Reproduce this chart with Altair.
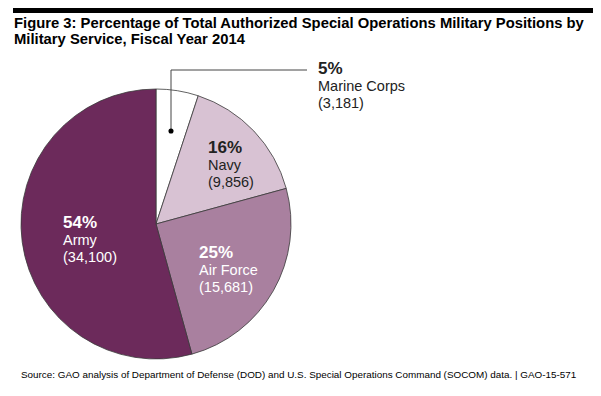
import altair as alt
import pandas as pd

services = ["Marine Corps", "Navy", "Air Force", "Army"]
counts = [3181, 9856, 15681, 34100]
pct_labels = ["5%", "16%", "25%", "54%"]
count_labels = ["(3,181)", "(9,856)", "(15,681)", "(34,100)"]
colors = ["#ffffff", "#d8c2d3", "#a9809f", "#6c2a5b"]
order = [0, 1, 2, 3]

title_lines = ["Figure 3: Percentage of Total Authorized Special Operations Military Positions by",
               "Military Service, Fiscal Year 2014"]
source_text = "Source: GAO analysis of Department of Defense (DOD) and U.S. Special Operations Command (SOCOM) data.  |  GAO-15-571"

df = pd.DataFrame({"service": services, "count": counts, "pct": pct_labels,
                   "cnt": count_labels, "ord": order})

FONT = "Liberation Sans"
CX, CY, R = 148, 216, 135

base = alt.Chart(df)

pie = base.mark_arc(radius=R, stroke="#3a3a3a", strokeWidth=0.8).encode(
    theta=alt.Theta("count:Q", stack=True),
    color=alt.Color("service:N", scale=alt.Scale(domain=services, range=colors), legend=None),
    order=alt.Order("ord:Q"),
    x=alt.value(CX), y=alt.value(CY),
)

one = pd.DataFrame({"a": [0]})
bar = alt.Chart(one).mark_rect(color="#000000").encode(
    x=alt.value(5), x2=alt.value(585), y=alt.value(0), y2=alt.value(5))

title1 = alt.Chart(one).mark_text(text=title_lines[0], font=FONT, fontSize=14.8, fontWeight="bold",
                                  align="left", baseline="alphabetic", color="#000").encode(
    x=alt.value(6), y=alt.value(20))
title2 = alt.Chart(one).mark_text(text=title_lines[1], font=FONT, fontSize=14.8, fontWeight="bold",
                                  align="left", baseline="alphabetic", color="#000").encode(
    x=alt.value(6), y=alt.value(36))
source = alt.Chart(one).mark_text(text=source_text, font=FONT, fontSize=9.9,
                                  align="left", baseline="alphabetic", color="#000").encode(
    x=alt.value(13), y=alt.value(370))

# leader line for Marine Corps
lead_v = alt.Chart(one).mark_rule(color="#444", strokeWidth=1).encode(
    x=alt.value(163), y=alt.value(62), y2=alt.value(123))
lead_h = alt.Chart(one).mark_rule(color="#444", strokeWidth=1).encode(
    x=alt.value(163), x2=alt.value(299), y=alt.value(62))
dot = alt.Chart(one).mark_circle(color="#000", opacity=1, size=26).encode(
    x=alt.value(163), y=alt.value(123))


def labels(service, x, y, col):
    d = base.transform_filter(alt.datum.service == service)
    p = d.mark_text(font=FONT, fontSize=17, fontWeight="bold", align="left",
                    baseline="alphabetic", color=col).encode(
        text="pct:N", x=alt.value(x), y=alt.value(y - 1))
    n = d.mark_text(font=FONT, fontSize=14.5, align="left", baseline="alphabetic", color=col).encode(
        text="service:N", x=alt.value(x), y=alt.value(y + 16))
    c = d.mark_text(font=FONT, fontSize=14.5, align="left", baseline="alphabetic", color=col).encode(
        text="cnt:N", x=alt.value(x), y=alt.value(y + 33))
    return [p, n, c]


lab = []
lab += labels("Marine Corps", 310, 67, "#222")
lab += labels("Navy", 200, 146, "#222")
lab += labels("Army", 55, 221, "#ffffff")
lab += labels("Air Force", 191, 251, "#ffffff")

chart = alt.layer(pie, bar, title1, title2, source, lead_v, lead_h, dot, *lab).properties(
    width=585, height=380, padding=0
).configure_view(stroke=None)

chart.save("out.html", embed_options={"renderer": "svg", "actions": False})
